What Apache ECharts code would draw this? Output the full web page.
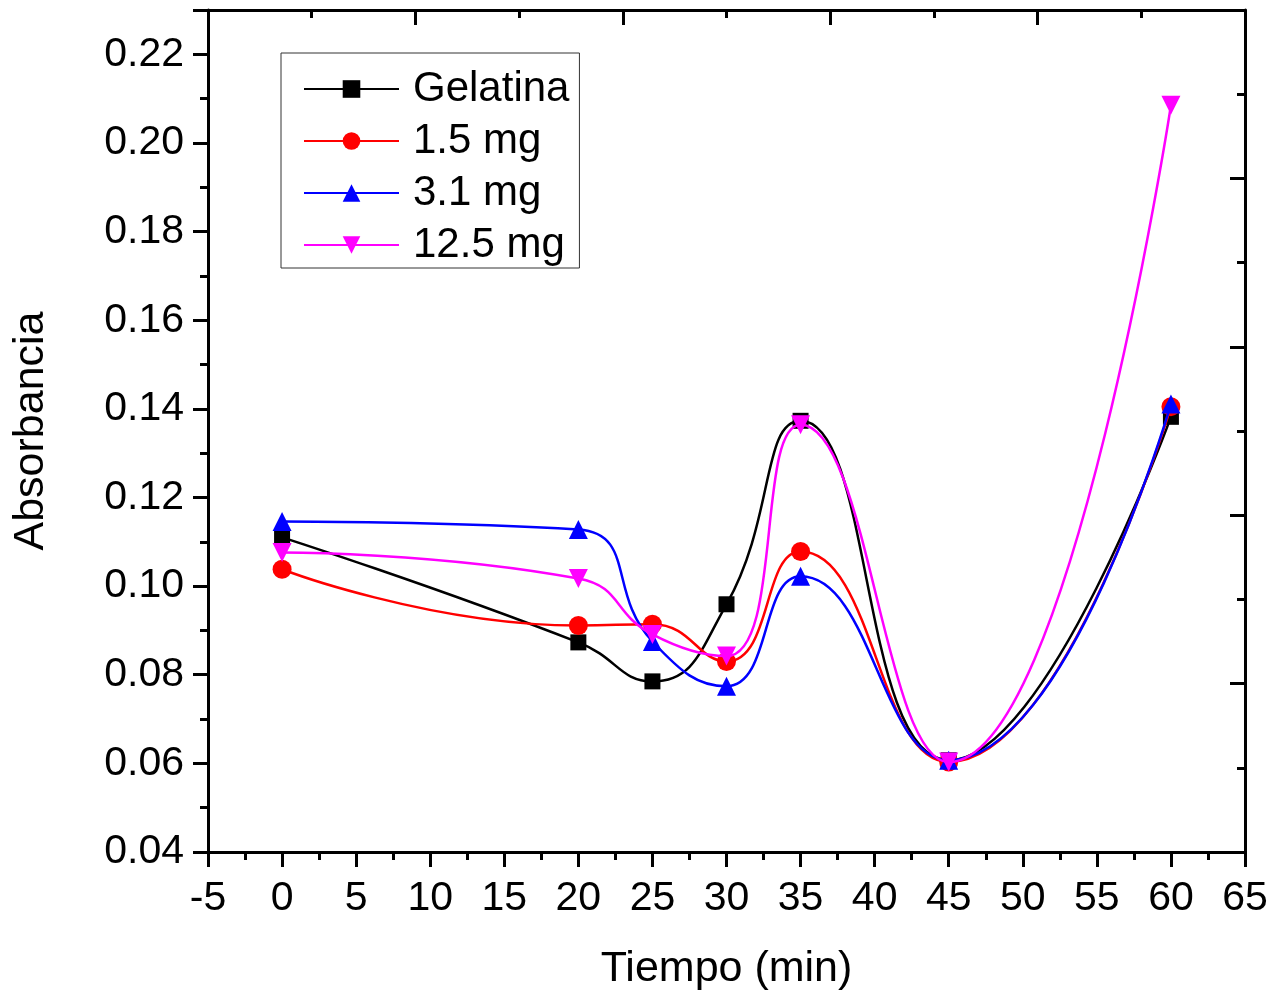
<!DOCTYPE html>
<html>
<head>
<meta charset="utf-8">
<title>Absorbancia vs Tiempo</title>
<script src="https://cdn.jsdelivr.net/npm/echarts@6/dist/echarts.min.js"></script>
<style>
  html, body { margin: 0; padding: 0; background: #fff; }
  #chart { width: 1277px; height: 992px; }
</style>
</head>
<body>
<div id="chart"></div>
<script>
// tiempo (min)
const tiempo = [0, 20, 25, 30, 35, 45, 60];

// absorbancia por muestra
const gelatina = [0.1110, 0.0873, 0.0785, 0.0959, 0.1373, 0.0607, 0.1382];
const mg1_5 = [0.1038, 0.0911, 0.0914, 0.0830, 0.1078, 0.0603, 0.1405];
const mg3_1 = [0.1146, 0.1128, 0.0875, 0.0774, 0.1022, 0.0607, 0.1411];
const mg12_5 = [0.1076, 0.1017, 0.0891, 0.0842, 0.1364, 0.0603, 0.2085];

const seriesNames = ['Gelatina', '1.5 mg', '3.1 mg', '12.5 mg'];
const seriesColors = ['#000000', '#ff0000', '#0000ff', '#ff00ff'];
const seriesSymbols = ['rect', 'circle', 'triangle', 'path://M0,0 L10,0 L5,9 Z'];
const seriesData = [gelatina, mg1_5, mg3_1, mg12_5];

const font = 'Liberation Sans, Arial, sans-serif';

function pares(vals) {
  return tiempo.map((t, i) => [t, vals[i]]);
}

const chart = echarts.init(document.getElementById('chart'));

const axisLine = { show: true, onZero: false, lineStyle: { color: '#000', width: 3 } };

const option = {
  animation: false,
  backgroundColor: '#fff',
  grid: { left: 208, right: 32, top: 10, bottom: 140, outerBoundsMode: 'none' },
  legend: {
    left: 281,
    top: 53,
    orient: 'vertical',
    data: seriesNames,
    itemWidth: 95,
    itemHeight: 22,
    itemGap: 10,
    padding: [15, 10, 2, 22],
    borderColor: '#333',
    borderWidth: 1,
    backgroundColor: '#fff',
    textStyle: { fontFamily: font, fontSize: 42, color: '#000', lineHeight: 40, padding: [0, 0, 0, 9] }
  },
  xAxis: [
    {
      type: 'value',
      position: 'bottom',
      min: -5,
      max: 65,
      interval: 5,
      name: 'Tiempo (min)',
      nameLocation: 'middle',
      nameGap: 96,
      nameTextStyle: { fontFamily: font, fontSize: 43, color: '#000' },
      axisLine: axisLine,
      axisTick: { show: true, inside: false, length: 15, lineStyle: { width: 3, color: '#000' } },
      minorTick: { show: true, splitNumber: 2, length: 8, lineStyle: { width: 3, color: '#000' } },
      axisLabel: { fontFamily: font, fontSize: 41, color: '#000', margin: 26 },
      splitLine: { show: false }
    },
    {
      type: 'value',
      position: 'top',
      min: 0,
      max: 5,
      interval: 1,
      axisLine: axisLine,
      axisTick: { show: true, inside: true, length: 15, lineStyle: { width: 3, color: '#000' } },
      minorTick: { show: true, splitNumber: 2, length: 8, lineStyle: { width: 3, color: '#000' } },
      axisLabel: { show: false },
      splitLine: { show: false }
    }
  ],
  yAxis: [
    {
      type: 'value',
      position: 'left',
      min: 0.04,
      max: 0.23,
      interval: 0.02,
      name: 'Absorbancia',
      nameLocation: 'middle',
      nameGap: 155,
      nameTextStyle: { fontFamily: font, fontSize: 43, color: '#000' },
      axisLine: axisLine,
      axisTick: { show: true, inside: false, length: 15, lineStyle: { width: 3, color: '#000' } },
      minorTick: { show: true, splitNumber: 2, length: 8, lineStyle: { width: 3, color: '#000' } },
      axisLabel: {
        fontFamily: font, fontSize: 41, color: '#000', margin: 24,
        formatter: function (v) {
          const k = Math.round(v * 100);
          return (k % 2 === 0 && v < 0.225) ? v.toFixed(2) : '';
        }
      },
      splitLine: { show: false }
    },
    {
      type: 'value',
      position: 'right',
      min: 0,
      max: 5,
      interval: 1,
      axisLine: axisLine,
      axisTick: { show: true, inside: true, length: 15, lineStyle: { width: 3, color: '#000' } },
      minorTick: { show: true, splitNumber: 2, length: 8, lineStyle: { width: 3, color: '#000' } },
      axisLabel: { show: false },
      splitLine: { show: false }
    }
  ],
  series: seriesNames.map((name, i) => ({
    name: name,
    type: 'line',
    xAxisIndex: 0,
    yAxisIndex: 0,
    smooth: 0.5,
    data: pares(seriesData[i]),
    symbol: seriesSymbols[i],
    symbolSize: i === 0 ? 16 : 19,
    color: seriesColors[i],
    lineStyle: { width: 2.5, color: seriesColors[i] },
    itemStyle: { color: seriesColors[i] },
    z: 2 + i
  }))
};

chart.setOption(option);
</script>
</body>
</html>
